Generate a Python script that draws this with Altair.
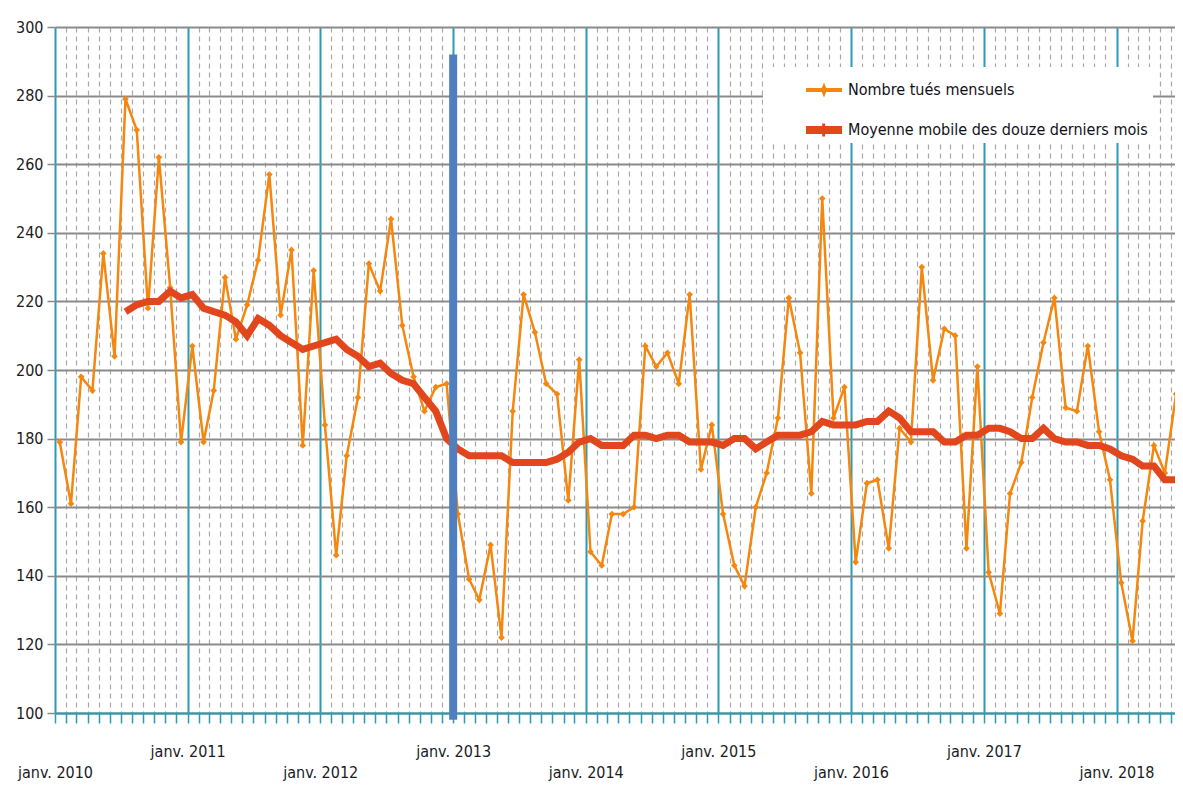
import altair as alt
import pandas as pd
from datetime import datetime, timezone

# ---- data ----
monthly = [179, 161, 198, 194, 234, 204, 279, 270, 218, 262, 224, 179,
           207, 179, 194, 227, 209, 219, 232, 257, 216, 235, 178, 229,
           184, 146, 175, 192, 231, 223, 244, 213, 198, 188, 195, 196,
           158, 139, 133, 149, 122, 188, 222, 211, 196, 193, 162, 203,
           147, 143, 158, 158, 160, 207, 201, 205, 196, 222, 171, 184,
           158, 143, 137, 160, 170, 186, 221, 205, 164, 250, 186, 195,
           144, 167, 168, 148, 183, 179, 230, 197, 212, 210, 148, 201,
           141, 129, 164, 173, 192, 208, 221, 189, 188, 207, 182, 168,
           138, 121, 156, 178, 170, 193, 200]
moving_start = 6
moving = [217, 219, 220, 220, 223, 221,
          222, 218, 217, 216, 214, 210, 215, 213, 210, 208, 206, 207,
          208, 209, 206, 204, 201, 202, 199, 197, 196, 192, 188, 180,
          177, 175, 175, 175, 175, 173, 173, 173, 173, 174, 176, 179,
          180, 178, 178, 178, 181, 181, 180, 181, 181, 179, 179, 179,
          178, 180, 180, 177, 179, 181, 181, 181, 182, 185, 184, 184,
          184, 185, 185, 188, 186, 182, 182, 182, 179, 179, 181, 181,
          183, 183, 182, 180, 180, 183, 180, 179, 179, 178, 178, 177,
          175, 174, 172, 172, 168, 168, 167]
series_names = ["Nombre tués mensuels", "Moyenne mobile des douze derniers mois"]
marker_year = 2013
y_values = list(range(100, 301, 10))

ORANGE = "#f5870f"
RED = "#e2461c"
BLUE = "#4f7fbf"
TEAL = "#2b9bb5"
FONT = "DejaVu Sans Condensed, Liberation Sans, Arial, sans-serif"


def ts(y, m, d):
    return int(datetime(y, m, d, tzinfo=timezone.utc).timestamp() * 1000)


def month_ts(i, day=14):
    return ts(2010 + i // 12, i % 12 + 1, day)


df_m = pd.DataFrame({"date": [month_ts(i) for i in range(len(monthly))], "value": monthly})
df_a = pd.DataFrame({"date": [month_ts(i + moving_start) for i in range(len(moving))], "value": moving})
df_bar = pd.DataFrame({"date": [ts(marker_year, 1, 1)], "top": [292], "bottom": [98]})
df_leg = pd.DataFrame({"series": series_names, "date": [ts(2014, 1, 1)] * 2, "value": [0, 0]})

tick_values = [month_ts(k, 1) for k in range(0, 102)]
x_domain = [ts(2010, 1, 1), ts(2018, 6, 11)]

is_jan = "utcmonth(datum.value) == 0"
x_axis = alt.Axis(
    values=tick_values, title=None,
    labelExpr="utcmonth(datum.value) == 0 ? 'janv. ' + utcyear(datum.value) : ''",
    labelOverlap=False, labelFlush=False, labelBound=False,
    labelFont=FONT, labelFontSize=16, labelColor="#1b1b24",
    labelBaseline="top", labelAlign="center",
    labelPadding={"condition": {"test": "utcyear(datum.value) % 2 == 1", "value": 20}, "value": 41},
    tickColor=TEAL, tickWidth=1.5, tickSize=10,
    domainColor=TEAL, domainWidth=2,
    grid=True,
    gridColor={"condition": {"test": is_jan, "value": TEAL}, "value": "#a8a8a8"},
    gridDash={"condition": {"test": is_jan, "value": [1, 0]}, "value": [5, 4]},
    gridWidth={"condition": {"test": is_jan, "value": 2}, "value": 1.2},
)
y_axis = alt.Axis(
    values=y_values, title=None,
    labelExpr="datum.value % 20 == 0 ? datum.label : ''",
    labelFont=FONT, labelFontSize=16, labelColor="#1b1b24", labelPadding=4,
    gridColor="#8a8a8a", gridWidth=2,
    gridOpacity={"condition": {"test": "datum.value % 20 == 0", "value": 1}, "value": 0},
    tickColor="#8a8a8a", tickSize=8, tickWidth=1.5, domain=False,
)

x_enc = alt.X("date:T", scale=alt.Scale(type="utc", domain=x_domain), axis=x_axis)
y_enc = alt.Y("value:Q", scale=alt.Scale(domain=[100, 300], nice=False), axis=y_axis)

monthly_line = alt.Chart(df_m).mark_line(color=ORANGE, strokeWidth=2.5, clip=True).encode(x=x_enc, y=y_enc)
monthly_pts = alt.Chart(df_m).mark_point(shape="diamond", size=45, filled=True, color=ORANGE,
                                         opacity=1, clip=True).encode(x=x_enc, y=y_enc)
avg_line = alt.Chart(df_a).mark_line(color=RED, strokeWidth=7, clip=True).encode(x=x_enc, y=y_enc)
bar = alt.Chart(df_bar).mark_rule(color=BLUE, strokeWidth=8).encode(
    x=x_enc, y=alt.Y("top:Q"), y2=alt.Y2("bottom:Q"))

PATH_O = "M-1,-0.11L1,-0.11L1,0.11L-1,0.11Z M0,-0.42L0.17,0L0,0.42L-0.17,0Z"
PATH_R = "M-1,-0.22L1,-0.22L1,0.22L-1,0.22Z M-0.1,-0.36L0.06,-0.36L0.06,0.36L-0.1,0.36Z"

legend = alt.Legend(
    title=None, orient="none", legendX=708, legendY=40,
    fillColor="white", padding=5, symbolOffset=38, labelOffset=6,
    rowPadding=14, symbolSize=1296, symbolStrokeWidth=0, symbolOpacity=1,
    labelFont=FONT, labelFontSize=16, labelColor="#111118", labelLimit=400,
)
legend_layer = alt.Chart(df_leg).mark_point(filled=True, size=1296, opacity=1, clip=True).encode(
    x=x_enc, y=y_enc,
    color=alt.Color("series:N", scale=alt.Scale(domain=series_names, range=[ORANGE, RED]), legend=legend),
    shape=alt.Shape("series:N", scale=alt.Scale(domain=series_names, range=[PATH_O, PATH_R]), legend=legend),
)

chart = alt.layer(monthly_line, monthly_pts, avg_line, bar, legend_layer).properties(
    width=1120, height=686,
    autosize=alt.AutoSizeParams(type="none"),
    padding={"left": 47, "top": 19, "right": 0, "bottom": 70},
).configure_view(strokeWidth=0)

chart.save("out.html", embed_options={"renderer": "svg", "actions": False})
